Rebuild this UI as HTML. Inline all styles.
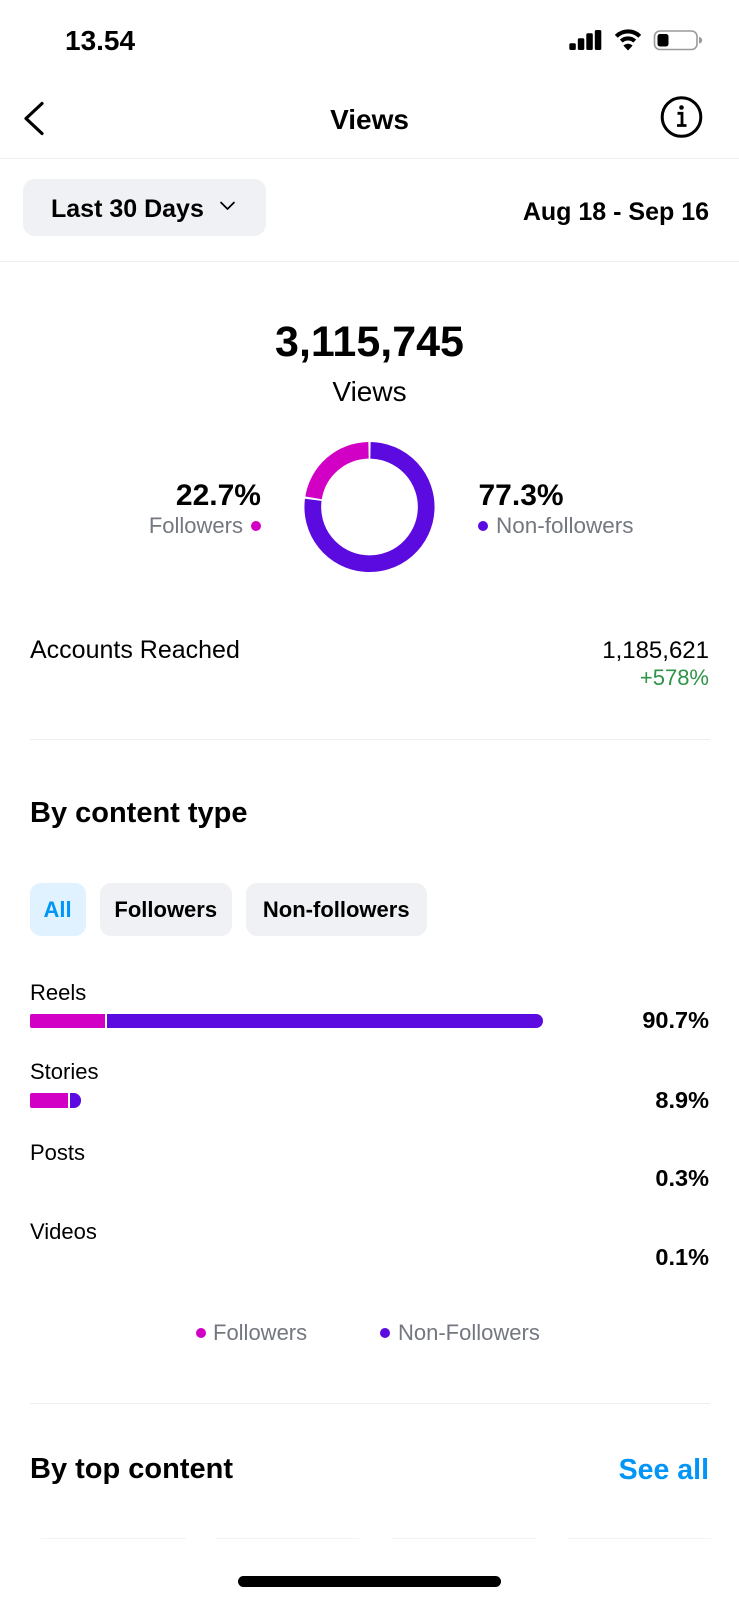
<!DOCTYPE html>
<html>
<head>
<meta charset="utf-8">
<style>
  html, body { margin:0; padding:0; }
  body { width:739px; height:1600px; position:relative; background:#fff; overflow:hidden;
         font-family:"Liberation Sans", Arial, sans-serif; color:#000; }
  .t { position:absolute; line-height:1; white-space:nowrap; }
  .b { font-weight:bold; }
  .c { left:0; width:739px; text-align:center; }
  .gray { color:#737780; }
  .sep { position:absolute; height:1.5px; background:#efefef; }
  .chip { position:absolute; top:883px; height:53px; line-height:53px; border-radius:11px;
          background:#eff1f4; font-weight:bold; font-size:22px; text-align:center; }
  .dot { position:absolute; width:10px; height:10px; border-radius:50%; }
  .mg { background:#d200c4; }
  .pp { background:#5b0ae0; }
</style>
</head>
<body>

<!-- status bar -->
<div class="t b" style="left:65px; top:27px; font-size:28px;">13.54</div>
<svg style="position:absolute; left:0; top:0;" width="739" height="160">
  <!-- signal -->
  <rect x="569.3" y="43.3" width="6.5" height="6.7" rx="1.5" fill="#000"/>
  <rect x="577.8" y="38.3" width="6.5" height="11.7" rx="1.5" fill="#000"/>
  <rect x="586.3" y="33.3" width="6.5" height="16.7" rx="1.5" fill="#000"/>
  <rect x="594.8" y="30" width="6.5" height="20" rx="1.5" fill="#000"/>
  <!-- wifi -->
  <path d="M616.3 36.3 A16.5 16.5 0 0 1 639.7 36.3" stroke="#000" stroke-width="4.2" fill="none"/>
  <path d="M621.3 41.1 A9.8 9.8 0 0 1 634.7 41.1" stroke="#000" stroke-width="4.2" fill="none"/>
  <path d="M628 50.5 L623.4 45.6 A6.5 6.5 0 0 1 632.6 45.6 Z" fill="#000"/>
  <!-- battery -->
  <rect x="654.5" y="31" width="42.5" height="18.5" rx="5.5" fill="none" stroke="#9a9a9a" stroke-width="1.6"/>
  <rect x="657.5" y="34" width="11" height="12.5" rx="2.5" fill="#000"/>
  <path d="M699 37 a3 3 0 0 1 0 6.5 z" fill="#9a9a9a"/>
  <!-- back chevron -->
  <polyline points="42,103.5 26,118.5 42,133.5" fill="none" stroke="#000" stroke-width="3.2" stroke-linecap="round" stroke-linejoin="round"/>
  <!-- info icon -->
  <circle cx="681.5" cy="117" r="19.3" fill="none" stroke="#000" stroke-width="3"/>
  <circle cx="681.5" cy="107.5" r="2.3" fill="#000"/>
  <path d="M677.5 113.3 H682 V125.5 M677 125.5 H686.5" fill="none" stroke="#000" stroke-width="2.8"/>
  <!-- chip chevron -->
  <polyline points="221,202.5 227.5,209 234,202.5" fill="none" stroke="#000" stroke-width="1.7" stroke-linecap="round" stroke-linejoin="round"/>
</svg>

<div class="t b c" style="top:106px; font-size:28px;">Views</div>
<div class="sep" style="left:0; width:739px; top:157.5px;"></div>

<!-- date range -->
<div style="position:absolute; left:22.5px; top:178.5px; width:243.5px; height:57px; border-radius:12px; background:#eff1f4;"></div>
<svg style="position:absolute; left:0; top:190px;" width="739" height="30">
  <polyline points="221,12.5 227.5,19 234,12.5" fill="none" stroke="#000" stroke-width="1.7" stroke-linecap="round" stroke-linejoin="round"/>
</svg>
<div class="t b" style="left:51px; top:197px; font-size:25px;">Last 30 Days</div>
<div class="t b" style="right:30px; top:200px; font-size:25px;">Aug 18 - Sep 16</div>
<div class="sep" style="left:0; width:739px; top:260.5px;"></div>

<!-- total -->
<div class="t b c" style="top:320.5px; font-size:43px;">3,115,745</div>
<div class="t c" style="top:377.5px; font-size:28px;">Views</div>

<!-- donut -->
<svg style="position:absolute; left:0; top:420px;" width="739" height="180">
  <g transform="translate(0,-420)">
    <path d="M370.49 450.31 A56.7 56.7 0 1 1 313.26 499.80" fill="none" stroke="#5b0ae0" stroke-width="16.7"/>
    <path d="M313.55 497.84 A56.7 56.7 0 0 1 368.51 450.31" fill="none" stroke="#d200c4" stroke-width="16.7"/>
  </g>
</svg>

<div class="t b" style="right:478px; top:480.5px; font-size:30px;">22.7%</div>
<div class="t gray" style="right:496px; top:515px; font-size:22px;">Followers</div>
<div class="dot mg" style="left:251px; top:521px;"></div>

<div class="t b" style="left:478.5px; top:480.5px; font-size:30px;">77.3%</div>
<div class="dot pp" style="left:478px; top:521px;"></div>
<div class="t gray" style="left:496px; top:515px; font-size:22.5px;">Non-followers</div>

<!-- accounts reached -->
<div class="t" style="left:30px; top:638px; font-size:25px;">Accounts Reached</div>
<div class="t" style="right:30px; top:638.5px; font-size:24px;">1,185,621</div>
<div class="t" style="right:30px; top:667px; font-size:22px; color:#2f9448;">+578%</div>
<div class="sep" style="left:30px; width:680px; top:738.5px;"></div>

<!-- by content type -->
<div class="t b" style="left:30px; top:798.5px; font-size:29px;">By content type</div>

<div class="chip" style="left:29.5px; width:56px; background:#e0f1ff; color:#0095f6;">All</div>
<div class="chip" style="left:100px; width:131.5px;">Followers</div>
<div class="chip" style="left:246px; width:180.5px;">Non-followers</div>

<!-- Reels -->
<div class="t" style="left:30px; top:981.5px; font-size:22px;">Reels</div>
<div style="position:absolute; left:29.5px; top:1013.5px; width:75.5px; height:14.5px; background:#d200c4; border-radius:2px 0 0 2px;"></div>
<div style="position:absolute; left:107px; top:1013.5px; width:436px; height:14.5px; background:#5b0ae0; border-radius:0 7.25px 7.25px 0;"></div>
<div class="t b" style="right:30px; top:1008.5px; font-size:23.5px;">90.7%</div>

<!-- Stories -->
<div class="t" style="left:30px; top:1061px; font-size:22px;">Stories</div>
<div style="position:absolute; left:29.5px; top:1093px; width:38px; height:14.5px; background:#d200c4; border-radius:2px 0 0 2px;"></div>
<div style="position:absolute; left:69.5px; top:1093px; width:11.5px; height:14.5px; background:#5b0ae0; border-radius:0 7.25px 7.25px 0;"></div>
<div class="t b" style="right:30px; top:1088.5px; font-size:23.5px;">8.9%</div>

<!-- Posts -->
<div class="t" style="left:30px; top:1141.5px; font-size:22px;">Posts</div>
<div class="t b" style="right:30px; top:1166.5px; font-size:23.5px;">0.3%</div>

<!-- Videos -->
<div class="t" style="left:30px; top:1221px; font-size:22px;">Videos</div>
<div class="t b" style="right:30px; top:1246px; font-size:23.5px;">0.1%</div>

<!-- legend -->
<div class="dot mg" style="left:196px; top:1328px;"></div>
<div class="t gray" style="left:213px; top:1322px; font-size:22px;">Followers</div>
<div class="dot pp" style="left:380px; top:1328px;"></div>
<div class="t gray" style="left:398px; top:1322px; font-size:22px;">Non-Followers</div>

<div class="sep" style="left:30px; width:680px; top:1402.5px;"></div>

<!-- by top content -->
<div class="t b" style="left:30px; top:1455px; font-size:29px;">By top content</div>
<div class="t b" style="right:30px; top:1455.5px; font-size:28.5px; color:#0095f6;">See all</div>

<div class="sep" style="left:41px; width:145px; top:1537.5px; background:#f3f3f3;"></div>
<div class="sep" style="left:216px; width:143px; top:1537.5px; background:#f3f3f3;"></div>
<div class="sep" style="left:392px; width:144px; top:1537.5px; background:#f3f3f3;"></div>
<div class="sep" style="left:568px; width:143px; top:1537.5px; background:#f3f3f3;"></div>

<!-- home indicator -->
<div style="position:absolute; left:238px; top:1576px; width:263px; height:11px; border-radius:6px; background:#000;"></div>

</body>
</html>
